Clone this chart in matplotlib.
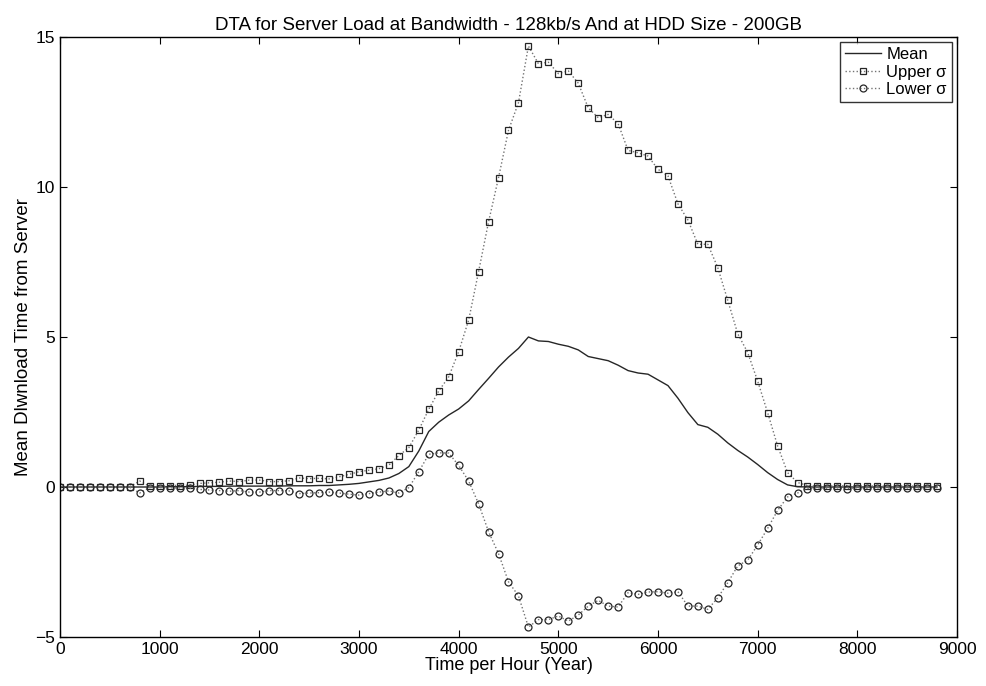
import matplotlib
matplotlib.use("Agg")
import matplotlib.pyplot as plt

# -------------------
# Data
# -------------------
heures = list(range(0, 8900, 100))

moyenne = [
    0.0, 0.0, 0.0, 0.0, 0.0, 0.0, 0.0, 0.0, 0.0, 0.0,
    0.0, 0.01, 0.01, 0.01, 0.02, 0.02, 0.02, 0.03, 0.03, 0.03,
    0.03, 0.03, 0.03, 0.04, 0.04, 0.04, 0.05, 0.05, 0.07, 0.09,
    0.12, 0.17, 0.22, 0.30, 0.45, 0.68, 1.20, 1.85, 2.16, 2.40,
    2.60, 2.87, 3.25, 3.62, 4.00, 4.33, 4.62, 5.00, 4.87, 4.85,
    4.76, 4.69, 4.57, 4.35, 4.28, 4.21, 4.06, 3.88, 3.80, 3.76,
    3.57, 3.38, 2.96, 2.48, 2.08, 1.99, 1.76, 1.47, 1.22, 1.00,
    0.75, 0.48, 0.25, 0.07, 0.01, 0.0, 0.0, 0.0, 0.0, 0.0,
    0.0, 0.0, 0.0, 0.0, 0.0, 0.0, 0.0, 0.0, 0.0,
]

sigma_haut = [
    0.0, 0.0, 0.0, 0.01, 0.0, 0.01, 0.0, 0.01, 0.20, 0.02,
    0.02, 0.05, 0.05, 0.06, 0.12, 0.14, 0.16, 0.20, 0.18, 0.23,
    0.23, 0.18, 0.18, 0.21, 0.30, 0.28, 0.29, 0.27, 0.34, 0.42,
    0.51, 0.56, 0.61, 0.73, 1.05, 1.31, 1.90, 2.59, 3.20, 3.67,
    4.51, 5.56, 7.18, 8.84, 10.31, 11.89, 12.81, 14.70, 14.11, 14.16,
    13.78, 13.87, 13.46, 12.64, 12.31, 12.42, 12.11, 11.22, 11.14, 11.03,
    10.59, 10.37, 9.44, 8.90, 8.09, 8.09, 7.31, 6.22, 5.11, 4.48,
    3.53, 2.48, 1.37, 0.48, 0.15, 0.05, 0.03, 0.04, 0.03, 0.05,
    0.03, 0.04, 0.03, 0.03, 0.04, 0.03, 0.03, 0.02, 0.02,
]

sigma_bas = [
    0.0, 0.0, 0.0, -0.01, 0.0, -0.01, 0.0, -0.01, -0.20, -0.02,
    -0.02, -0.03, -0.03, -0.04, -0.08, -0.10, -0.12, -0.14, -0.12, -0.17,
    -0.17, -0.12, -0.12, -0.13, -0.22, -0.20, -0.19, -0.17, -0.20, -0.24,
    -0.27, -0.22, -0.17, -0.13, -0.20, -0.02, 0.51, 1.09, 1.14, 1.13,
    0.72, 0.20, -0.56, -1.49, -2.22, -3.16, -3.63, -4.67, -4.42, -4.42,
    -4.30, -4.47, -4.27, -3.97, -3.78, -3.97, -4.00, -3.52, -3.58, -3.50,
    -3.49, -3.54, -3.49, -3.97, -3.97, -4.08, -3.69, -3.19, -2.63, -2.44,
    -1.93, -1.38, -0.78, -0.33, -0.20, -0.05, -0.03, -0.04, -0.03, -0.05,
    -0.03, -0.04, -0.03, -0.03, -0.04, -0.03, -0.03, -0.02, -0.02,
]

# -------------------
# Graphique
# -------------------
plt.rcParams["font.family"] = ["Liberation Sans", "DejaVu Sans"]
plt.rcParams["font.size"] = 12

fig = plt.figure(figsize=(9.87, 6.86), dpi=100)
ax = fig.add_axes([60 / 987, 49 / 686, 897 / 987, 600 / 686])

ax.plot(heures, moyenne, "-", color="0.15", linewidth=1.0, label="Mean")
ax.plot(heures, sigma_haut, ":", color="0.45", linewidth=1.0,
        marker="s", markersize=5, markerfacecolor="none",
        markeredgecolor="0.15", markeredgewidth=0.9, label="Upper σ")
ax.plot(heures, sigma_bas, ":", color="0.45", linewidth=1.0,
        marker="o", markersize=5, markerfacecolor="none",
        markeredgecolor="0.15", markeredgewidth=0.9, label="Lower σ")

ax.set_xlim(0, 9000)
ax.set_ylim(-5, 15)
ax.set_xticks(range(0, 9001, 1000))
ax.set_yticks([-5, 0, 5, 10, 15])
ax.tick_params(direction="in", top=True, right=True, length=5, labelsize=12.5)
for s in ax.spines.values():
    s.set_linewidth(1.0)

ax.set_title("DTA for Server Load at Bandwidth - 128kb/s And at HDD Size - 200GB",
             fontsize=13.5, pad=5)
ax.set_xlabel("Time per Hour (Year)", fontsize=13, labelpad=0)
ax.set_ylabel("Mean Dlwnload Time from Server", fontsize=13.5, labelpad=2)

leg = ax.legend(loc="upper right", fontsize=12, frameon=True, fancybox=False,
                edgecolor="black", handlelength=2.2, handletextpad=0.3,
                borderaxespad=0.3, labelspacing=0.15, borderpad=0.3)
leg.get_frame().set_linewidth(1.0)

fig.savefig("out.png", dpi=100)
